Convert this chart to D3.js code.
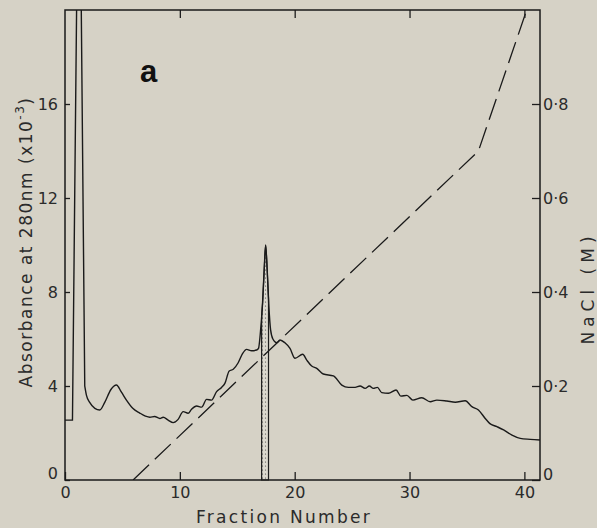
<!DOCTYPE html>
<html>
<head>
  <title>Fraction elution</title>
  <style type="text/css">
    body { margin: 0; background: #d6d2c6; }
    svg { display: block; }
    .tick text { font-family: "DejaVu Sans", sans-serif; font-size: 16px; fill: #2b2b2b; }
    .tick line { stroke: #1e1e1e; stroke-width: 1.3; }
    .domain { display: none; }
  </style>
</head>
<body>
<div id="chart"></div>
<script src="https://d3js.org/d3.v7.min.js"></script>
<script type="text/javascript">
// absorbance trace (x10^-3) against fraction number
var fraction = [0, 0.65, 1.05, 1.38, 1.72, 1.87, 2.15, 2.6, 3.03, 3.46, 4.0, 4.48, 4.9, 5.35, 5.9, 6.51, 7.0, 7.39, 7.8, 8.26, 8.55, 8.98, 9.42, 9.85, 10.29, 10.72, 11.02, 11.46, 11.9, 12.33, 12.76, 13.2, 13.63, 13.92, 14.3, 14.65, 15.08, 15.47, 15.81, 16.25, 16.69, 16.85, 17.0, 17.2, 17.35, 17.47, 17.6, 17.75, 17.9, 18.1, 18.43, 18.72, 19.15, 19.59, 20.03, 20.7, 21.05, 21.48, 21.92, 22.49, 23.37, 24.1, 24.68, 25.26, 25.69, 26.13, 26.5, 26.85, 27.2, 27.58, 28.16, 28.83, 29.24, 29.77, 30.29, 31.07, 31.8, 32.38, 33.25, 33.98, 34.85, 35.43, 36.0, 36.59, 36.97, 37.61, 38.19, 38.92, 39.64, 40.51, 41.36];
var absorbance = [2.55, 2.55, 22, 22, 4.0, 3.6, 3.3, 3.05, 2.98, 3.3, 3.85, 4.04, 3.75, 3.4, 3.05, 2.85, 2.72, 2.67, 2.7, 2.62, 2.67, 2.55, 2.44, 2.58, 2.91, 2.84, 3.01, 3.15, 3.1, 3.43, 3.4, 3.76, 3.94, 4.11, 4.64, 4.71, 4.99, 5.39, 5.56, 5.5, 5.53, 5.6, 6.2, 7.5, 9.0, 10.0, 9.0, 7.4, 6.4, 6.0, 5.84, 5.96, 5.84, 5.6, 5.18, 5.35, 5.1, 4.85, 4.75, 4.51, 4.43, 4.04, 3.94, 3.94, 4.0, 3.9, 4.0, 3.9, 3.94, 3.72, 3.69, 3.83, 3.57, 3.6, 3.4, 3.5, 3.33, 3.4, 3.36, 3.31, 3.37, 3.12, 2.98, 2.62, 2.41, 2.27, 2.13, 1.91, 1.77, 1.73, 1.70];

// NaCl gradient (M)
var naclFraction = [5.93, 36.0, 40.2];
var naclConc = [0, 0.70, 1.0];

// pooled fractions (stippled)
var pooled = [17.12, 17.72];

var xTicks = [0, 10, 20, 30, 40];
var absTicks = [0, 4, 8, 12, 16];
var naclTicks = [0, 0.2, 0.4, 0.6, 0.8];

var width = 597, height = 528;
var margin = {top: 10, right: 57, bottom: 48, left: 65};

var x = d3.scaleLinear().domain([0, 41.36]).range([margin.left, width - margin.right]);
var yA = d3.scaleLinear().domain([0, 20]).range([height - margin.bottom, margin.top]);
var yN = d3.scaleLinear().domain([0, 1]).range([height - margin.bottom, margin.top]);

var svg = d3.select("#chart")
  .append("svg")
    .attr("width", width)
    .attr("height", height);

var defs = svg.append("defs");
defs.append("clipPath").attr("id", "plot")
  .append("rect")
    .attr("x", margin.left).attr("y", margin.top)
    .attr("width", x.range()[1] - margin.left)
    .attr("height", yA.range()[0] - margin.top);

var pat = defs.append("pattern")
    .attr("id", "stipple")
    .attr("width", 3).attr("height", 4)
    .attr("patternUnits", "userSpaceOnUse");
pat.append("rect").attr("width", 3).attr("height", 4).attr("fill", "#dcd9cf");
pat.append("circle").attr("cx", 1.5).attr("cy", 2).attr("r", 0.6).attr("fill", "#444");

var trace = fraction.map((f, i) => ({f: f, a: absorbance[i]}));

// stippled area under the peak between pooled fractions
function interp(f) {
  var i = d3.bisectLeft(fraction, f);
  var t = (f - fraction[i - 1]) / (fraction[i] - fraction[i - 1]);
  return absorbance[i - 1] + t * (absorbance[i] - absorbance[i - 1]);
}
var pool = [{f: pooled[0], a: interp(pooled[0])}]
  .concat(trace.filter(d => d.f > pooled[0] && d.f < pooled[1]))
  .concat([{f: pooled[1], a: interp(pooled[1])}]);

svg.append("path")
  .datum(pool)
  .attr("d", d3.area().x(d => x(d.f)).y0(yA(0)).y1(d => yA(d.a)).curve(d3.curveMonotoneX))
  .attr("fill", "url(#stipple)")
  .attr("stroke", "#1e1e1e")
  .attr("stroke-width", 1.2);

// absorbance trace: the off-scale void peak straight, the rest smoothed
var lineFn = d3.line().x(d => x(d.f)).y(d => yA(d.a));
svg.append("path")
  .datum(trace.slice(0, 5))
  .attr("clip-path", "url(#plot)")
  .attr("d", lineFn)
  .attr("fill", "none")
  .attr("stroke", "#1a1a1a")
  .attr("stroke-width", 1.4);

svg.append("path")
  .datum(trace.slice(4))
  .attr("clip-path", "url(#plot)")
  .attr("d", lineFn.curve(d3.curveMonotoneX))
  .attr("fill", "none")
  .attr("stroke", "#1a1a1a")
  .attr("stroke-width", 1.4);

// salt gradient
svg.append("path")
  .datum(naclFraction.map((f, i) => [f, naclConc[i]]))
  .attr("clip-path", "url(#plot)")
  .attr("d", d3.line().x(d => x(d[0])).y(d => yN(d[1])))
  .attr("fill", "none")
  .attr("stroke", "#1a1a1a")
  .attr("stroke-width", 1.3)
  .attr("stroke-dasharray", "22,8");

// axes, ticks pointing inward
svg.append("g")
  .attr("transform", "translate(0," + yA(0) + ")")
  .call(d3.axisBottom(x).tickValues(xTicks).tickSize(-8).tickPadding(7).tickFormat(d3.format("d")));

svg.append("g")
  .attr("transform", "translate(0," + margin.top + ")")
  .call(d3.axisTop(x).tickValues(xTicks.slice(1)).tickSize(-8).tickFormat(""));

var left = svg.append("g")
  .attr("transform", "translate(" + margin.left + ",0)")
  .call(d3.axisLeft(yA).tickValues(absTicks).tickSize(-5).tickPadding(7));

var right = svg.append("g")
  .attr("transform", "translate(" + x.range()[1] + ",0)")
  .call(d3.axisRight(yN).tickValues(naclTicks).tickSize(-8).tickPadding(3)
    .tickFormat(d => d === 0 ? "0" : d3.format(".1f")(d).replace(".", "\u00b7")));

// zero labels sit a little above the corner
left.selectAll(".tick text").filter(d => d === 0).attr("y", -7);
right.selectAll(".tick text").filter(d => d === 0).attr("y", -6);

// frame
svg.append("rect")
  .attr("x", margin.left).attr("y", margin.top)
  .attr("width", x.range()[1] - margin.left)
  .attr("height", yA.range()[0] - margin.top)
  .attr("fill", "none")
  .attr("stroke", "#1a1a1a")
  .attr("stroke-width", 1.5);

// titles
svg.append("text")
  .attr("x", 284).attr("y", 523)
  .attr("text-anchor", "middle")
  .style("font-family", "DejaVu Sans, sans-serif")
  .style("font-size", "17px")
  .style("letter-spacing", "2.3px")
  .attr("fill", "#2b2b2b")
  .text("Fraction Number");

var ylab = svg.append("text")
  .attr("transform", "translate(32,242)rotate(-90)")
  .attr("text-anchor", "middle")
  .style("font-family", "DejaVu Sans, sans-serif")
  .style("font-size", "17px")
  .style("letter-spacing", "1.5px")
  .attr("fill", "#2b2b2b");
ylab.append("tspan").text("Absorbance at 280nm (x10");
ylab.append("tspan").attr("dy", -8).style("font-size", "12px").text("-3");
ylab.append("tspan").attr("dy", 8).text(")");

svg.append("text")
  .attr("transform", "translate(594,288)rotate(-90)")
  .attr("text-anchor", "middle")
  .style("font-family", "DejaVu Sans, sans-serif")
  .style("font-size", "17px")
  .style("letter-spacing", "5px")
  .attr("fill", "#2b2b2b")
  .text("NaCl (M)");

svg.append("text")
  .attr("x", 140).attr("y", 82)
  .style("font-family", "Liberation Sans, Arial, sans-serif")
  .style("font-size", "31px")
  .style("font-weight", "bold")
  .attr("fill", "#111")
  .text("a");
</script>
</body>
</html>
